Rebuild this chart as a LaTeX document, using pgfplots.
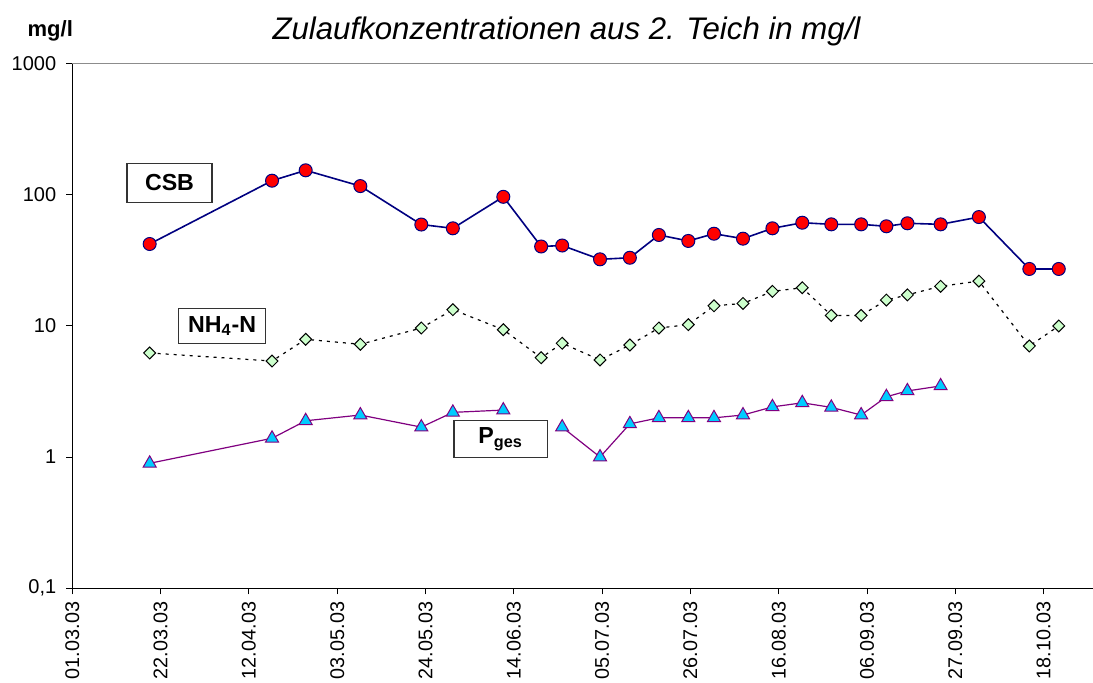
\documentclass[border=0pt]{standalone}
\usepackage{fontspec}
\setmainfont{Liberation Sans}
\usepackage{pgfplots}
\pgfplotsset{compat=1.18}
\definecolor{csbline}{RGB}{0,0,128}
\definecolor{nhfill}{RGB}{204,255,204}
\definecolor{pfill}{RGB}{0,204,255}
\definecolor{pline}{RGB}{128,0,128}
\begin{document}
\begin{tikzpicture}
\useasboundingbox (-36.15pt,-47.35pt) rectangle ++(546.5pt,341.5pt);
\begin{axis}[
  at={(0pt,0pt)}, anchor=south west,
  scale only axis, width=510.9pt, height=262.5pt,
  xmin=0, xmax=243, ymode=log, ymin=0.1, ymax=1000,
  axis lines*=left,
  axis line style={black, line width=0.6pt},
  xtick={0,21,...,231},
  xticklabels={01.03.03,22.03.03,12.04.03,03.05.03,24.05.03,14.06.03,05.07.03,26.07.03,16.08.03,06.09.03,27.09.03,18.10.03},
  xticklabel style={rotate=90, anchor=east, font=\fontsize{9.9}{12}\selectfont},
  xticklabel shift=0.3pt,
  ytick={0.1,1,10,100,1000},
  yticklabels={{0,1},1,10,100,1000},
  yticklabel style={font=\fontsize{10}{12}\selectfont},
  yticklabel shift=1.5pt,
  yminorticks=false,
  tick align=outside, major tick length=3pt,
  tick style={black, line width=0.5pt},
  unbounded coords=jump,
  clip=false,
]
\draw[black!45, line width=0.5pt] (rel axis cs:0,1) -- (rel axis cs:1,1);
% CSB
\addplot[color=csbline, line width=0.8pt, mark=*, mark size=3.25pt,
  mark options={fill=red, draw=csbline, line width=0.5pt}] coordinates {
(18.4,42.0)(47.5,127.5)(55.5,153)(68.5,116)(83.0,59.1)(90.5,55.3)(102.5,96.1)
(111.5,40.2)(116.5,40.9)(125.5,32.1)(132.6,33.0)(139.5,49.2)(146.5,44.3)
(152.6,50.3)(159.5,46.1)(166.5,55.3)(173.6,61.0)(180.5,59.3)(187.6,59.3)
(193.6,57.3)(198.6,60.4)(206.5,59.3)(215.6,67.4)(227.6,27.1)(234.6,27.1)
};
% NH4-N
\addplot[color=black, line width=0.6pt, dash pattern=on 1.5pt off 2.5pt,
  mark=square*, mark size=2.1pt,
  mark options={solid, rotate=45, fill=nhfill, draw=black, line width=0.5pt}] coordinates {
(18.4,6.21)(47.5,5.39)(55.5,7.89)(68.5,7.23)(83.0,9.62)(90.5,13.27)(102.5,9.34)
(111.5,5.71)(116.5,7.36)(125.5,5.49)(132.6,7.14)(139.5,9.62)(146.5,10.2)
(152.6,14.2)(159.5,14.8)(166.5,18.3)(173.6,19.5)(180.5,12.0)(187.6,12.0)
(193.6,15.7)(198.6,17.2)(206.5,20.0)(215.6,21.9)(227.6,7.02)(234.6,9.97)
};
% Pges
\addplot[color=pline, line width=0.6pt, mark=triangle*, mark size=3.75pt,
  mark options={fill=pfill, draw=pline, line width=0.5pt}] coordinates {
(18.4,0.896)(47.5,1.39)(55.5,1.89)(68.5,2.09)(83.0,1.69)(90.5,2.19)(102.5,2.28)
(111.5,nan)(116.5,1.69)(125.5,1.0)(132.6,1.79)(139.5,1.99)(146.5,1.99)
(152.6,1.99)(159.5,2.09)(166.5,2.41)(173.6,2.59)(180.5,2.39)(187.6,2.09)
(193.6,2.88)(198.6,3.19)(206.5,3.48)
};
\end{axis}
\node[font=\itshape\fontsize{15.6}{18}\selectfont] at (247.1pt,278.65pt) {Zulaufkonzentrationen aus 2. Teich in mg/l};
\node[font=\bfseries\fontsize{11}{13}\selectfont] at (-11pt,278.9pt) {mg/l};
\node[draw=black!80, line width=0.6pt, fill=white, minimum width=42.5pt, minimum height=19.5pt, inner sep=0pt, font=\bfseries\fontsize{11.6}{14}\selectfont] at (48.6pt,202.75pt) {CSB};
\node[draw=black!80, line width=0.6pt, fill=white, minimum width=43.5pt, minimum height=17.3pt, inner sep=0pt, font=\bfseries\fontsize{11.6}{14}\selectfont] at (74.95pt,131.15pt) {NH\textsubscript{4}-N};
\node[draw=black!80, line width=0.6pt, fill=white, minimum width=46.65pt, minimum height=18.3pt, inner sep=0pt, font=\bfseries\fontsize{11.6}{14}\selectfont] at (214.2pt,74.65pt) {P\textsubscript{ges}};
\end{tikzpicture}
\end{document}
